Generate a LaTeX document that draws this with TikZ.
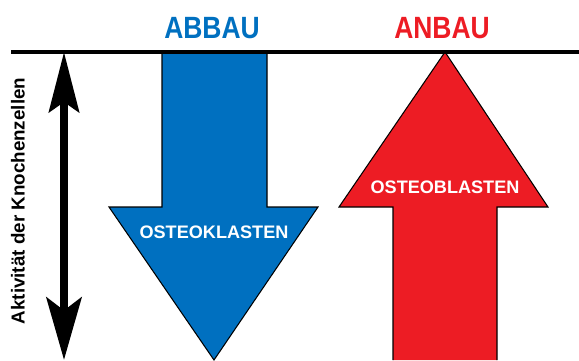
\documentclass[tikz,border=0pt]{standalone}
\usepackage{fontspec}
\usepackage{xcolor}
\setmainfont{Liberation Sans}
\newfontfamily\condfont[FakeStretch=0.86]{Liberation Sans}
\usetikzlibrary{arrows.meta, positioning}
\definecolor{abblue}{HTML}{0070C0}
\definecolor{anred}{HTML}{ED1C24}

\begin{document}
\begin{tikzpicture}[
  x=0.02cm, y=-0.02cm,
  every node/.style={font=\bfseries},
  title/.style={font=\condfont\bfseries\fontsize{17.5}{20}\selectfont},
  cell/.style={text=white, font=\bfseries\fontsize{10.3}{12}\selectfont},
  bigarrow/.style={draw=black, line width=0.6pt, line join=miter},
]
\useasboundingbox (0,0) rectangle (579,360);

% Abbau arrow (down)
\fill[abblue] (162,52) -- (267,52) -- (267,207) -- (318,207) -- (214,360) -- (109,207) -- (162,207) -- cycle;
\draw[bigarrow] (162,52) -- (162,207) -- (109,207) -- (214,360) -- (318,207) -- (267,207) -- (267,52);
\node[cell] (okl) at (214,232) {OSTEOKLASTEN};

% Anbau arrow (up)
\fill[anred] (445,52) -- (548,207) -- (497,207) -- (497,360) -- (393,360) -- (393,207) -- (339,207) -- cycle;
\draw[bigarrow] (393,360) -- (393,207) -- (339,207) -- (445,52) -- (548,207) -- (497,207) -- (497,360);
\node[cell] (obl) at (445,187) {OSTEOBLASTEN};

% Titles
\node[title, text=abblue] (abbau) at (212,28) {ABBAU};
\node[title, text=anred] (anbau) at (442,28) {ANBAU};

% Activity axis
\coordinate (akttop) at (64,52);
\coordinate (aktbot) at (64,360);
\draw[line width=0.16cm,
  {Stealth[length=1.2cm, width=0.6cm, inset=0.2cm]}-{Stealth[length=1.25cm, width=0.7cm, inset=0.26cm]}]
  (akttop) -- (aktbot);
\node[rotate=90, font=\bfseries\fontsize{10.7}{12}\selectfont] (akt) at (18,201) {Aktivität der Knochenzellen};

% Baseline
\draw[line width=0.08cm] (11,52) -- (579,52);
\end{tikzpicture}
\end{document}
